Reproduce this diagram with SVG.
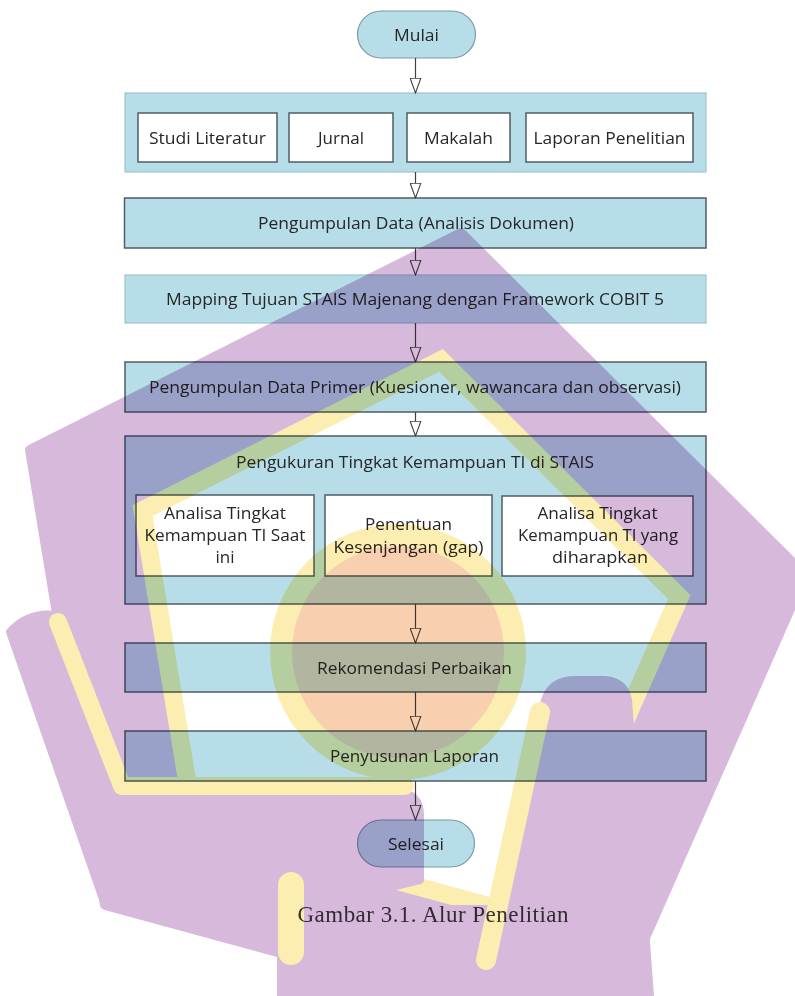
<svg xmlns="http://www.w3.org/2000/svg" width="795" height="996" viewBox="0 0 795 996">
<defs>
<style>
.box{fill:#b7dee8;stroke:#4f5c66;stroke-width:1.5}
.lbox{fill:#b7dee8;stroke:#9dc3cf;stroke-width:1.2}
.pill{fill:#b7dee8;stroke:#7d9aa6;stroke-width:1.2}
.wbox{fill:#ffffff;stroke:#4f5c66;stroke-width:1.5}
.t{font-family:"Open Sans","Noto Sans","Liberation Sans",sans-serif;font-size:16px;fill:#262626;text-anchor:middle;dominant-baseline:central}
.cap{font-family:"Liberation Serif","Times New Roman",serif;font-size:23px;fill:#3a3a3a;text-anchor:middle}
.con{stroke:#404040;stroke-width:1.2;fill:none;marker-end:url(#arr)}
.wp{fill:#d7b9dc}
.wy{fill:#fcedb0}
</style>
<marker id="arr" viewBox="0 0 16 12" refX="15.5" refY="6" markerWidth="16" markerHeight="12" markerUnits="userSpaceOnUse" orient="auto">
<path d="M0.6,0.6 L15.4,6 L0.6,11.4 Z" fill="#ffffff" stroke="#404040" stroke-width="1.1"/>
</marker>
</defs>
<rect x="0" y="0" width="795" height="996" fill="#ffffff"/>

<g id="mulai">
<rect class="pill" x="357.5" y="11" width="118" height="47" rx="23.5"/>
<text class="t" x="416.5" y="35" textLength="45" lengthAdjust="spacingAndGlyphs">Mulai</text>
</g>

<g id="sumber">
<rect class="lbox" x="125" y="93" width="581" height="79"/>
<g id="studi-literatur"><rect class="wbox" x="138" y="113" width="139" height="49"/><text class="t" x="207.5" y="138" textLength="117" lengthAdjust="spacingAndGlyphs">Studi Literatur</text></g>
<g id="jurnal"><rect class="wbox" x="289" y="113" width="104" height="49"/><text class="t" x="341" y="138" textLength="46" lengthAdjust="spacingAndGlyphs">Jurnal</text></g>
<g id="makalah"><rect class="wbox" x="407" y="113" width="103" height="49"/><text class="t" x="458.5" y="138" textLength="69" lengthAdjust="spacingAndGlyphs">Makalah</text></g>
<g id="laporan-penelitian"><rect class="wbox" x="526" y="113" width="167" height="49"/><text class="t" x="609.5" y="138" textLength="152" lengthAdjust="spacingAndGlyphs">Laporan Penelitian</text></g>
</g>

<g id="pengumpulan-data">
<rect class="box" x="124.5" y="198" width="581.5" height="50"/>
<text class="t" x="416" y="223" textLength="316" lengthAdjust="spacingAndGlyphs">Pengumpulan Data (Analisis Dokumen)</text>
</g>

<g id="mapping">
<rect class="lbox" x="125" y="275" width="581" height="48"/>
<text class="t" x="415" y="299" textLength="498" lengthAdjust="spacingAndGlyphs">Mapping Tujuan STAIS Majenang dengan Framework COBIT 5</text>
</g>

<g id="data-primer">
<rect class="box" x="125" y="362" width="581" height="50"/>
<text class="t" x="415" y="387" textLength="532" lengthAdjust="spacingAndGlyphs">Pengumpulan Data Primer (Kuesioner, wawancara dan observasi)</text>
</g>

<g id="pengukuran">
<rect class="box" x="125" y="436" width="581" height="168"/>
<text class="t" x="415" y="462" textLength="358" lengthAdjust="spacingAndGlyphs">Pengukuran Tingkat Kemampuan TI di STAIS</text>
<g id="analisa-saat-ini">
<rect class="wbox" x="136" y="495" width="178" height="81"/>
<text class="t" x="225" y="513" textLength="122" lengthAdjust="spacingAndGlyphs">Analisa Tingkat</text>
<text class="t" x="225" y="535" textLength="161" lengthAdjust="spacingAndGlyphs">Kemampuan TI Saat</text>
<text class="t" x="225" y="557" textLength="19" lengthAdjust="spacingAndGlyphs">ini</text>
</g>
<g id="kesenjangan">
<rect class="wbox" x="325" y="495" width="167" height="81"/>
<text class="t" x="408.5" y="524" textLength="87" lengthAdjust="spacingAndGlyphs">Penentuan</text>
<text class="t" x="408.5" y="547" textLength="150" lengthAdjust="spacingAndGlyphs">Kesenjangan (gap)</text>
</g>
<g id="analisa-harapan">
<rect class="wbox" x="502" y="496" width="191" height="80"/>
<text class="t" x="597.5" y="513" textLength="120" lengthAdjust="spacingAndGlyphs">Analisa Tingkat</text>
<text class="t" x="598" y="535" textLength="160" lengthAdjust="spacingAndGlyphs">Kemampuan TI yang</text>
<text class="t" x="600" y="557" textLength="96" lengthAdjust="spacingAndGlyphs">diharapkan</text>
</g>
</g>

<g id="rekomendasi">
<rect class="box" x="125" y="643" width="581" height="49"/>
<text class="t" x="414.5" y="667.5" textLength="195" lengthAdjust="spacingAndGlyphs">Rekomendasi Perbaikan</text>
</g>

<g id="penyusunan">
<rect class="box" x="125" y="731" width="581" height="50"/>
<text class="t" x="414.5" y="756" textLength="169" lengthAdjust="spacingAndGlyphs">Penyusunan Laporan</text>
</g>

<g id="selesai">
<rect class="pill" x="357.5" y="820" width="117" height="47" rx="23.5"/>
<text class="t" x="416" y="844" textLength="56" lengthAdjust="spacingAndGlyphs">Selesai</text>
</g>

<g id="connectors">
<line class="con" x1="415.5" y1="58" x2="415.5" y2="93"/>
<line class="con" x1="415.5" y1="172" x2="415.5" y2="198"/>
<line class="con" x1="415.5" y1="248" x2="415.5" y2="275"/>
<line class="con" x1="415.5" y1="323" x2="415.5" y2="362"/>
<line class="con" x1="415.5" y1="412" x2="415.5" y2="436"/>
<line class="con" x1="415.5" y1="604" x2="415.5" y2="643"/>
<line class="con" x1="415.5" y1="692" x2="415.5" y2="731"/>
<line class="con" x1="415.5" y1="781" x2="415.5" y2="820"/>
</g>

<text class="cap" x="433" y="922" textLength="271">Gambar 3.1. Alur Penelitian</text>

<g id="watermark" style="mix-blend-mode:multiply" stroke-linejoin="round">
<path class="wp" fill-rule="evenodd" stroke="#d7b9dc" stroke-width="10" d="M461,233 L805,575 L600,1040 L105,905 L30,450 Z M442.8,348.9 L690.5,595.2 L542.9,930 L186.5,832.8 L132.5,505.2 Z"/>
<path class="wy" fill-rule="evenodd" d="M442.8,348.9 L690.5,595.2 L542.9,930 L186.5,832.8 L132.5,505.2 Z M439.2,371.7 L668,599.1 L531.7,908.3 L202.5,818.6 L152.6,516 Z"/>
<path class="wp" stroke="#d7b9dc" stroke-width="8" d="M10,632 Q28,612 55,615 L120,792 L400,792 Q420,795 420,815 L420,880 L277,915 L105,905 Z"/>
<path class="wp" stroke="#d7b9dc" stroke-width="8" d="M545,700 Q552,680 575,680 L605,680 Q625,682 628,700 L650,996 L478,996 Z"/>
<path class="wp" d="M277,905 L650,905 L650,996 L277,996 Z"/>
<polyline points="58,622 122,786 405,786" fill="none" stroke="#fcedb0" stroke-width="18" stroke-linecap="round"/>
<line x1="540" y1="712" x2="486" y2="960" stroke="#fcedb0" stroke-width="20" stroke-linecap="round"/>
<line x1="291" y1="885" x2="291" y2="952" stroke="#fcedb0" stroke-width="26" stroke-linecap="round"/>
<circle class="wy" cx="398" cy="652" r="128"/>
<circle cx="398" cy="652" r="106" fill="#f8d0b0"/>
</g>
</svg>
